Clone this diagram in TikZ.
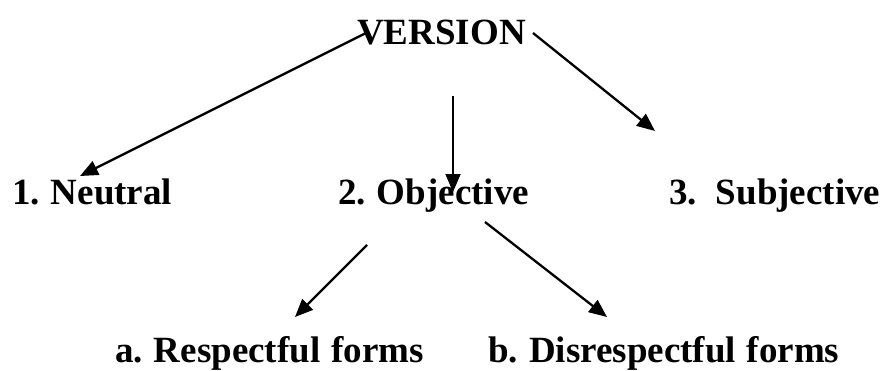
\documentclass[tikz,border=0pt]{standalone}
\usepackage{fontspec}
\setmainfont{Liberation Serif}
\usetikzlibrary{arrows.meta}
\newcommand\mylblfont{\fontsize{37}{40}\selectfont\bfseries\spaceskip=11pt plus 0pt\relax}
\begin{document}
\frenchspacing
\begin{tikzpicture}[x=1pt,y=1pt,
  lbl/.style={anchor=base west,inner sep=0pt,font=\mylblfont},
  conn/.style={line width=2.3pt,-{Triangle[length=18pt,width=15pt]}}]
\useasboundingbox (0,0) rectangle (885,-370);
\node[lbl] (version) at (357,-44) {VERSION};
\node[lbl] (neutral) at (12,-204) {1. Neutral};
\node[lbl] (objective) at (338,-204) {2. Objective};
\node[lbl] (subjective) at (669,-204) {3.\hspace{19pt}Subjective};
\node[lbl] (respectful) at (115,-362) {a. Respectful forms};
\node[lbl] (disrespectful) at (488,-362) {b. Disrespectful forms};
\coordinate (a1) at (366,-33);  \coordinate (b1) at (80,-176);
\coordinate (a2) at (453,-96);  \coordinate (b2) at (453,-192);
\coordinate (a3) at (533,-33);  \coordinate (b3) at (655,-131);
\coordinate (a4) at (367,-245); \coordinate (b4) at (295,-317);
\coordinate (a5) at (485,-222); \coordinate (b5) at (607,-317);
\draw[conn] (a1) -- (b1);
\draw[conn,line width=1.8pt] (a2) -- (b2);
\draw[conn] (a3) -- (b3);
\draw[conn] (a4) -- (b4);
\draw[conn] (a5) -- (b5);
\end{tikzpicture}
\end{document}
